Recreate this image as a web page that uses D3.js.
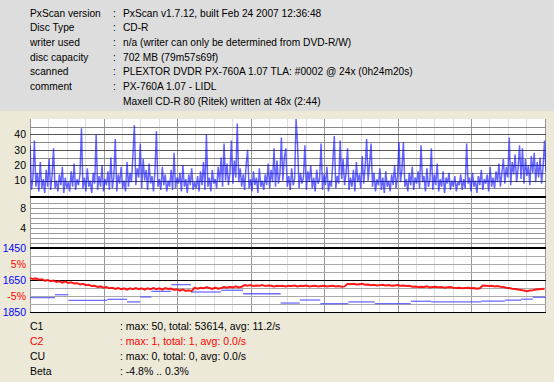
<!DOCTYPE html>
<html>
<head>
<meta charset="utf-8">
<script src="https://cdn.jsdelivr.net/npm/d3@7"></script>
<style>
  html, body { margin: 0; padding: 0; background: #ECE9D8; }
  svg { display: block; font-family: "Liberation Sans", Arial, sans-serif; }
</style>
</head>
<body>
<svg id="chart" width="554" height="382"></svg>
<script>
// header info
const infoLabels = ["PxScan version", "Disc Type", "writer used", "disc capacity", "scanned", "comment", ""];
const infoValues = [
  "PxScan v1.7.12, built Feb 24 2007 12:36:48",
  "CD-R",
  "n/a (writer can only be determined from DVD-R/W)",
  "702 MB (79m57s69f)",
  "PLEXTOR DVDR PX-760A 1.07 TLA: #0002 @ 24x (0h24m20s)",
  "PX-760A 1.07 - LIDL",
  "Maxell CD-R 80 (Ritek) written at 48x (2:44)"
];

// summary lines under the plot
const statLabels = ["C1", "C2", "CU", "Beta"];
const statValues = [
  ": max: 50, total: 53614, avg: 11.2/s",
  ": max: 1, total: 1, avg: 0.0/s",
  ": max: 0, total: 0, avg: 0.0/s",
  ": -4.8% .. 0.3%"
];
const statColors = ["#000000", "#ff0000", "#000000", "#000000"];

// C1 errors, one sample every 2 MB (0..702 MB)
const c1Step = 2;
const c1Values = [
  33, 4, 12, 36, 6, 15, 3, 22, 5, 11, 2, 17, 6, 24, 4, 13,
  31, 5, 10, 3, 14, 7, 19, 2, 12, 5, 9, 3, 16, 6, 21, 4,
  11, 7, 14, 44, 5, 12, 3, 18, 6, 10, 2, 15, 8, 40, 4, 13,
  6, 20, 3, 11, 7, 16, 4, 25, 5, 12, 37, 3, 14, 8, 19, 5,
  10, 3, 22, 6, 15, 9, 26, 46, 7, 18, 12, 34, 5, 24, 10, 17,
  4, 21, 8, 13, 3, 16, 42, 6, 11, 4, 19, 7, 14, 3, 10, 6,
  17, 4, 28, 5, 12, 8, 15, 3, 20, 6, 11, 2, 14, 7, 18, 4,
  9, 5, 13, 3, 16, 7, 22, 4, 40, 6, 12, 3, 17, 8, 11, 5,
  19, 9, 25, 6, 34, 10, 21, 7, 15, 36, 8, 23, 12, 47, 9, 18,
  6, 14, 4, 20, 30, 5, 11, 3, 16, 7, 12, 2, 18, 6, 10, 4,
  14, 7, 21, 5, 17, 9, 31, 6, 23, 8, 14, 38, 10, 25, 31, 6,
  13, 4, 18, 7, 11, 50, 33, 5, 15, 8, 12, 33, 4, 16, 9, 20,
  5, 12, 3, 17, 8, 11, 34, 4, 14, 7, 19, 3, 10, 6, 22, 39,
  5, 13, 8, 36, 11, 24, 7, 15, 31, 4, 12, 6, 17, 3, 22, 9,
  14, 5, 26, 8, 19, 37, 10, 21, 34, 6, 15, 3, 11, 7, 18, 4,
  12, 2, 16, 6, 10, 3, 14, 7, 20, 5, 13, 35, 9, 17, 35, 6,
  11, 3, 15, 7, 19, 4, 12, 8, 16, 5, 33, 9, 13, 3, 18, 6,
  10, 31, 4, 14, 7, 21, 3, 11, 6, 16, 2, 12, 8, 15, 4, 10,
  6, 13, 3, 9, 7, 14, 4, 11, 5, 34, 8, 12, 3, 15, 6, 10,
  2, 13, 7, 17, 4, 11, 8, 14, 3, 19, 6, 12, 5, 16, 9, 21,
  6, 15, 24, 8, 19, 12, 38, 7, 22, 14, 27, 9, 18, 33, 11, 31,
  8, 24, 13, 20, 7, 26, 15, 28, 9, 22, 12, 25, 8, 19, 36, 16
];

// beta (%), one sample every 4 MB (0..700 MB)
const betaStep = 4;
const betaValues = [
  0.6, 0.3, 0.5, 0.1, 0.2, -0.2, 0.0, -0.4, -0.2, -0.6, -0.4, -0.8, -0.5, -0.9, -0.7, -1.1, -1.0, -1.4, -1.2, -1.6,
  -1.5, -1.9, -1.8, -2.2, -2.0, -2.4, -2.2, -2.6, -2.4, -2.8, -2.5, -2.9, -2.6, -3.0, -2.6, -2.9, -2.5, -2.9, -2.6, -3.0,
  -2.6, -2.9, -2.5, -2.9, -2.6, -3.0, -2.5, -2.8, -2.7, -3.1, -2.9, -3.3, -3.0, -3.4, -3.2, -3.5, -2.4, -2.7, -2.4, -2.6,
  -2.3, -2.5, -2.8, -2.4, -2.7, -2.5, -2.2, -2.4, -2.1, -2.3, -2.0, -2.3, -2.1, -1.6, -1.8, -1.6, -1.9, -1.7, -1.8, -1.6,
  -1.9, -1.7, -1.8, -2.0, -1.8, -1.9, -1.8, -2.0, -1.8, -1.9, -1.7, -2.0, -1.8, -1.9, -1.7, -2.0, -1.9, -1.8, -2.0, -1.9,
  -1.8, -2.0, -1.9, -1.8, -2.0, -1.9, -2.1, -2.0, -1.2, -1.3, -1.2, -1.4, -1.3, -1.2, -1.5, -1.4, -1.6, -1.5, -1.7, -1.6,
  -1.5, -1.7, -1.6, -1.8, -1.7, -1.6, -1.8, -1.7, -1.9, -1.8, -2.1, -2.0, -2.2, -2.1, -2.2, -2.0, -2.3, -2.2, -2.1, -2.3,
  -2.2, -2.4, -2.3, -2.2, -2.4, -2.5, -2.4, -2.6, -2.5, -2.4, -2.6, -2.5, -2.7, -2.6, -1.7, -1.8, -1.9, -1.8, -2.0, -1.9,
  -2.1, -2.2, -2.4, -2.5, -2.7, -2.8, -3.0, -3.1, -3.3, -3.5, -3.3, -3.2, -3.0, -2.9, -2.8, -2.7
];

// jitter, one level per zone: zone start (MB) and value
const jitterMB = [0, 34, 52, 105, 132, 150, 165, 192, 219, 260, 290, 341, 367, 395, 433, 469, 518, 546, 614, 646, 668, 684, 702];
const jitterValues = [1760, 1742, 1777, 1771, 1787, 1756, 1721, 1679, 1725, 1714, 1736, 1794, 1775, 1798, 1787, 1798, 1783, 1787, 1782, 1776, 1770, 1758, 1746];

const c1Ticks = [10, 20, 30, 40];
const c2Ticks = [4, 8];
const betaTicks = [5, -5];
const jitterTicks = [1450, 1650, 1850];

const svg = d3.select("#chart");
const plotLeft = 30, plotRight = 546, plotTop = 119, plotBottom = 312;

// header panel
svg.append("rect").attr("x", 0).attr("y", 0).attr("width", 554).attr("height", 111).attr("fill", "#DDDDDD");
const info = svg.append("g").attr("font-size", "10.2px").attr("fill", "#000");
infoLabels.forEach((lab, i) => {
  const y = 16.5 + i * 14.7;
  info.append("text").attr("x", 30).attr("y", y).text(lab);
  if (lab) info.append("text").attr("x", 113).attr("y", y).text(":");
  info.append("text").attr("x", 123).attr("y", y).text(infoValues[i]);
});

// scales
const x = d3.scaleLinear().domain([0, 702]).range([plotLeft, plotRight]);
const yC1 = d3.scaleLinear().domain([0, 50]).range([196, plotTop]);
const yC2 = d3.scaleLinear().domain([0, 10]).range([248, 198]);
const yBeta = d3.scaleLinear().domain([-10, 10]).range([plotBottom, 248]);
const yJit = d3.scaleLinear().domain([1450, 1850]).range([248, plotBottom]);

svg.append("rect").attr("x", plotLeft).attr("y", plotTop)
  .attr("width", plotRight - plotLeft).attr("height", plotBottom - plotTop).attr("fill", "#fff");

// vertical grid
const grid = svg.append("g").attr("shape-rendering", "crispEdges");
d3.range(0, 701, 25).forEach(mb => {
  grid.append("line")
    .attr("x1", Math.round(x(mb)) + 0.5).attr("x2", Math.round(x(mb)) + 0.5)
    .attr("y1", plotTop).attr("y2", plotBottom)
    .attr("stroke", mb % 100 === 0 ? "#999" : "#dedede");
});

function hline(y, color, w) {
  grid.append("line").attr("x1", plotLeft).attr("x2", plotRight)
    .attr("y1", y).attr("y2", y).attr("stroke", color).attr("stroke-width", w || 1);
}
d3.range(5, 50, 5).forEach(v => hline(Math.round(yC1(v)) + 0.5, v % 10 === 0 ? "#555" : "#8a8a8a"));
d3.range(1, 10, 1).forEach(v => hline(Math.round(yC2(v)) + 0.5, "#999"));
d3.range(-7.5, 10, 2.5).forEach(v => { if (v !== 0) hline(Math.round(yBeta(v)) + 0.5, "#aaa"); });

svg.append("clipPath").attr("id", "plotclip").append("rect")
  .attr("x", plotLeft).attr("y", plotTop).attr("width", plotRight - plotLeft).attr("height", plotBottom - plotTop);

// C1 trace
const c1Line = d3.line().x((d, i) => x(i * c1Step)).y(d => yC1(d));
svg.append("path").datum(c1Values).attr("clip-path", "url(#plotclip)")
  .attr("d", c1Line).attr("fill", "none").attr("stroke", "#0000ff")
  .attr("stroke-opacity", 0.6).attr("stroke-width", 1.5).attr("stroke-linejoin", "bevel");

// jitter: one flat segment per zone
svg.append("g").selectAll("line")
  .data(jitterValues.slice(0, -1))
  .join("line")
  .attr("x1", (d, i) => x(jitterMB[i])).attr("x2", (d, i) => x(jitterMB[i + 1]))
  .attr("y1", d => yJit(d)).attr("y2", d => yJit(d))
  .attr("stroke", "#3c3cff").attr("stroke-opacity", 0.75).attr("stroke-width", 1.3);

// beta
const betaLine = d3.line().x((d, i) => x(i * betaStep)).y(d => yBeta(d));
svg.append("path").datum(betaValues).attr("d", betaLine).attr("fill", "none")
  .attr("stroke", "#ff0000").attr("stroke-width", 2).attr("stroke-opacity", 0.9);

// separators
hline(280.5, "#000", 1);
hline(197, "#000", 2);
hline(247.5, "#000", 2);
hline(312.5, "#000", 1);

// left labels
function leftAxis(scale, ticks, color, fmt) {
  const g = svg.append("g").attr("transform", `translate(${plotLeft},0)`)
    .call(d3.axisLeft(scale).tickValues(ticks).tickSize(0).tickPadding(4).tickFormat(fmt || (d => d)));
  g.select(".domain").remove();
  g.selectAll("text").attr("font-size", "10.5px")
    .attr("font-family", "Liberation Sans, Arial, sans-serif").attr("fill", color);
}
leftAxis(yC1, c1Ticks, "#000");
leftAxis(yC2, c2Ticks, "#000");
leftAxis(yBeta, betaTicks, "#ff0000", d => d + "%");
leftAxis(yJit, jitterTicks, "#0000ff");

// summary
const stats = svg.append("g").attr("font-size", "10.5px");
statLabels.forEach((lab, i) => {
  const y = 329.5 + i * 15;
  stats.append("text").attr("x", 30).attr("y", y).attr("fill", statColors[i]).text(lab);
  stats.append("text").attr("x", 120).attr("y", y).attr("fill", statColors[i]).text(statValues[i]);
});
</script>
</body>
</html>
